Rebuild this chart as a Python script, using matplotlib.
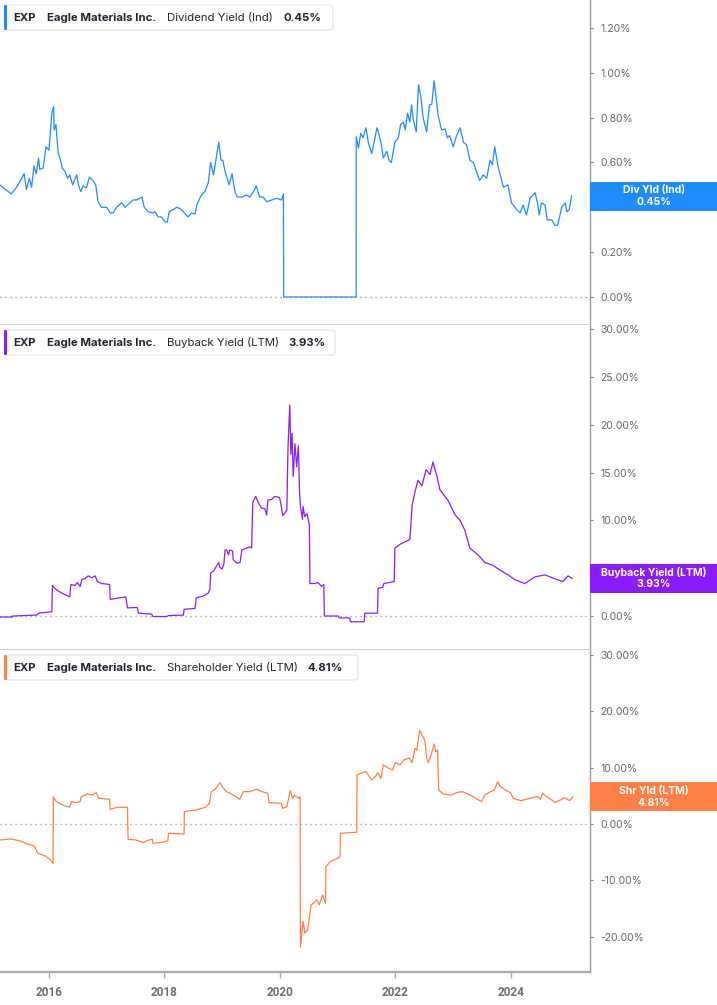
import numpy as np
import matplotlib.pyplot as plt
from matplotlib.patches import Rectangle, FancyBboxPatch

plt.rcParams['font.family'] = ['Inter', 'DejaVu Sans']

# (decimal year, yield %)
div_pts = [
    (2015.15, 0.50), (2015.21, 0.487), (2015.35, 0.46), (2015.44, 0.49), (2015.53, 0.53),
    (2015.57, 0.55), (2015.61, 0.48), (2015.66, 0.53), (2015.70, 0.49), (2015.74, 0.585),
    (2015.78, 0.55), (2015.82, 0.62), (2015.84, 0.57), (2015.90, 0.575), (2015.95, 0.67),
    (2016.00, 0.655), (2016.05, 0.82), (2016.08, 0.85), (2016.09, 0.745), (2016.12, 0.77),
    (2016.16, 0.64), (2016.19, 0.62), (2016.23, 0.575), (2016.28, 0.56), (2016.32, 0.53),
    (2016.36, 0.545), (2016.41, 0.50), (2016.48, 0.545), (2016.51, 0.50), (2016.55, 0.47),
    (2016.59, 0.495), (2016.65, 0.487), (2016.70, 0.535), (2016.76, 0.52), (2016.81, 0.50),
    (2016.85, 0.425), (2016.91, 0.40), (2017.00, 0.40), (2017.06, 0.375), (2017.11, 0.375),
    (2017.17, 0.40), (2017.26, 0.42), (2017.32, 0.40), (2017.40, 0.42), (2017.46, 0.433),
    (2017.52, 0.433), (2017.61, 0.446), (2017.65, 0.40), (2017.72, 0.38), (2017.80, 0.375),
    (2017.84, 0.38), (2017.89, 0.357), (2017.95, 0.357), (2018.01, 0.335), (2018.05, 0.335),
    (2018.08, 0.38), (2018.15, 0.39), (2018.21, 0.40), (2018.27, 0.395), (2018.33, 0.38),
    (2018.41, 0.357), (2018.47, 0.375), (2018.53, 0.37), (2018.56, 0.41), (2018.64, 0.455),
    (2018.70, 0.47), (2018.76, 0.51), (2018.80, 0.60), (2018.85, 0.545), (2018.90, 0.625),
    (2018.94, 0.69), (2018.98, 0.61), (2019.01, 0.61), (2019.05, 0.56), (2019.12, 0.50),
    (2019.17, 0.55), (2019.22, 0.47), (2019.26, 0.446), (2019.34, 0.446), (2019.42, 0.455),
    (2019.48, 0.446), (2019.54, 0.47), (2019.59, 0.495), (2019.65, 0.446), (2019.71, 0.446),
    (2019.77, 0.425), (2019.86, 0.433), (2019.94, 0.44), (2020.03, 0.433), (2020.06, 0.46),
    (2020.065, 0.0), (2021.32, 0.0), (2021.322, 0.715), (2021.36, 0.665), (2021.40, 0.73),
    (2021.44, 0.71), (2021.49, 0.755), (2021.53, 0.69), (2021.59, 0.64), (2021.63, 0.69),
    (2021.68, 0.755), (2021.70, 0.74), (2021.75, 0.69), (2021.79, 0.62), (2021.85, 0.65),
    (2021.89, 0.61), (2021.93, 0.60), (2021.99, 0.69), (2022.05, 0.71), (2022.09, 0.77),
    (2022.14, 0.78), (2022.17, 0.745), (2022.21, 0.82), (2022.25, 0.78), (2022.28, 0.857),
    (2022.31, 0.79), (2022.36, 0.737), (2022.40, 0.946), (2022.44, 0.893), (2022.48, 0.80),
    (2022.54, 0.737), (2022.59, 0.857), (2022.63, 0.86), (2022.67, 0.964), (2022.70, 0.90),
    (2022.74, 0.81), (2022.80, 0.745), (2022.86, 0.75), (2022.90, 0.71), (2022.94, 0.72),
    (2023.00, 0.67), (2023.06, 0.72), (2023.12, 0.755), (2023.18, 0.69), (2023.23, 0.68),
    (2023.29, 0.61), (2023.35, 0.60), (2023.41, 0.555), (2023.46, 0.52), (2023.52, 0.545),
    (2023.58, 0.53), (2023.64, 0.61), (2023.68, 0.59), (2023.72, 0.67), (2023.78, 0.58),
    (2023.87, 0.49), (2023.95, 0.50), (2024.01, 0.42), (2024.10, 0.39), (2024.16, 0.375),
    (2024.21, 0.41), (2024.27, 0.366), (2024.33, 0.44), (2024.42, 0.465), (2024.46, 0.42),
    (2024.49, 0.366), (2024.53, 0.42), (2024.59, 0.41), (2024.63, 0.344), (2024.71, 0.344),
    (2024.76, 0.32), (2024.81, 0.32), (2024.88, 0.40), (2024.94, 0.42), (2024.97, 0.38),
    (2025.01, 0.39), (2025.05, 0.45),
]

buyback_pts = [
    (2015.15, -0.1), (2015.37, -0.1), (2015.372, 0.0), (2015.79, 0.1), (2015.82, 0.3),
    (2016.05, 0.45), (2016.06, 3.2), (2016.10, 2.9), (2016.19, 2.5), (2016.36, 2.0),
    (2016.38, 3.3), (2016.45, 3.2), (2016.49, 3.5), (2016.54, 3.1), (2016.57, 3.85),
    (2016.62, 3.9), (2016.68, 4.2), (2016.74, 4.0), (2016.80, 4.2), (2016.84, 3.6),
    (2016.91, 3.4), (2017.05, 3.3), (2017.06, 1.75), (2017.17, 1.85), (2017.33, 2.0),
    (2017.36, 0.85), (2017.53, 0.9), (2017.55, 0.3), (2017.78, 0.2), (2017.80, -0.05),
    (2018.04, -0.05), (2018.07, 0.05), (2018.33, 0.1), (2018.34, 0.7), (2018.53, 0.8),
    (2018.55, 1.9), (2018.67, 2.1), (2018.76, 2.4), (2018.79, 2.9), (2018.80, 4.5),
    (2018.85, 4.7), (2018.89, 5.1), (2018.94, 5.6), (2018.96, 5.1), (2019.00, 4.9),
    (2019.03, 5.5), (2019.05, 6.9), (2019.08, 6.9), (2019.11, 6.4), (2019.13, 6.9),
    (2019.18, 6.8), (2019.19, 5.9), (2019.26, 5.5), (2019.31, 5.6), (2019.34, 6.9),
    (2019.42, 7.1), (2019.48, 7.25), (2019.51, 7.1), (2019.53, 11.9), (2019.58, 12.5),
    (2019.63, 11.8), (2019.68, 11.3), (2019.74, 11.2), (2019.77, 10.55), (2019.79, 12.1),
    (2019.86, 12.2), (2019.91, 12.5), (2019.99, 12.4), (2020.01, 11.95), (2020.05, 10.5),
    (2020.09, 10.8), (2020.12, 11.1), (2020.13, 14.2), (2020.14, 17.7), (2020.17, 22.05),
    (2020.19, 16.9), (2020.21, 19.1), (2020.23, 14.6), (2020.26, 18.0), (2020.29, 15.6),
    (2020.32, 17.8), (2020.34, 12.8), (2020.36, 11.25), (2020.39, 10.1), (2020.40, 11.45),
    (2020.43, 10.4), (2020.47, 10.7), (2020.51, 9.5), (2020.52, 3.4), (2020.61, 3.4),
    (2020.66, 3.5), (2020.72, 3.1), (2020.76, 3.3), (2020.77, 0.0), (2021.01, 0.0),
    (2021.03, -0.2), (2021.21, -0.2), (2021.22, -0.6), (2021.46, -0.6), (2021.47, 0.3),
    (2021.69, 0.3), (2021.70, 2.9), (2021.78, 3.0), (2021.80, 3.4), (2021.98, 3.6),
    (2021.99, 7.1), (2022.08, 7.5), (2022.25, 8.0), (2022.29, 11.6), (2022.34, 13.0),
    (2022.39, 14.2), (2022.46, 13.6), (2022.53, 15.3), (2022.60, 14.8), (2022.65, 16.1),
    (2022.72, 14.6), (2022.77, 13.2), (2022.91, 12.1), (2023.03, 10.6), (2023.12, 10.0),
    (2023.20, 9.0), (2023.29, 7.1), (2023.43, 6.4), (2023.55, 5.6), (2023.69, 5.3),
    (2023.81, 4.8), (2023.95, 4.3), (2024.07, 3.8), (2024.24, 3.4), (2024.42, 4.1),
    (2024.59, 4.3), (2024.76, 3.9), (2024.90, 3.6), (2024.99, 4.2), (2025.06, 3.93),
]

shareholder_pts = [
    (2015.15, -2.84), (2015.35, -2.66), (2015.54, -3.14), (2015.61, -3.55), (2015.74, -3.85),
    (2015.81, -5.2), (2015.94, -5.7), (2016.03, -6.4), (2016.07, -7.0), (2016.075, 4.73),
    (2016.13, 3.97), (2016.23, 3.37), (2016.36, 2.96), (2016.39, 3.97), (2016.46, 3.79),
    (2016.54, 3.97), (2016.56, 4.85), (2016.67, 5.33), (2016.75, 5.15), (2016.82, 5.56),
    (2016.86, 4.56), (2017.05, 4.38), (2017.06, 2.6), (2017.18, 2.96), (2017.36, 2.96),
    (2017.37, -2.72), (2017.50, -2.84), (2017.64, -3.3), (2017.70, -2.96), (2017.79, -2.72),
    (2017.80, -3.43), (2017.93, -3.3), (2018.06, -3.0), (2018.07, -1.66), (2018.34, -1.78),
    (2018.345, 2.19), (2018.55, 2.49), (2018.71, 2.96), (2018.78, 3.67), (2018.81, 5.74),
    (2018.88, 6.15), (2018.96, 7.34), (2019.01, 6.51), (2019.07, 5.74), (2019.14, 5.44),
    (2019.24, 4.85), (2019.30, 4.38), (2019.37, 5.74), (2019.47, 5.74), (2019.60, 6.15),
    (2019.69, 5.74), (2019.79, 5.44), (2019.81, 3.79), (2020.02, 3.67), (2020.05, 2.78),
    (2020.12, 3.08), (2020.18, 5.92), (2020.22, 4.56), (2020.25, 5.15), (2020.32, 4.56),
    (2020.35, 4.85), (2020.355, -21.9), (2020.38, -19.4), (2020.40, -17.3), (2020.43, -19.4),
    (2020.48, -18.8), (2020.54, -14.4), (2020.64, -13.5), (2020.68, -14.4), (2020.74, -12.6),
    (2020.79, -14.1), (2020.795, -7.6), (2020.87, -6.7), (2021.00, -6.1), (2021.04, -5.8),
    (2021.05, -1.66), (2021.33, -1.48), (2021.335, 8.7), (2021.43, 9.1), (2021.49, 9.3),
    (2021.59, 7.8), (2021.66, 8.5), (2021.69, 9.1), (2021.75, 8.1), (2021.79, 10.5),
    (2021.88, 9.9), (2021.95, 9.6), (2022.00, 10.9), (2022.08, 10.5), (2022.15, 11.4),
    (2022.24, 11.7), (2022.29, 10.9), (2022.34, 13.4), (2022.37, 13.1), (2022.42, 16.6),
    (2022.46, 15.8), (2022.51, 14.9), (2022.54, 11.7), (2022.57, 10.9), (2022.62, 12.3),
    (2022.67, 14.2), (2022.70, 12.8), (2022.73, 13.1), (2022.75, 6.0), (2022.83, 5.33),
    (2022.96, 5.15), (2023.06, 5.56), (2023.16, 5.74), (2023.29, 5.15), (2023.39, 4.56),
    (2023.49, 3.97), (2023.55, 5.15), (2023.65, 5.74), (2023.71, 6.0), (2023.77, 7.5),
    (2023.81, 6.75), (2023.91, 6.0), (2023.99, 5.56), (2024.04, 4.56), (2024.17, 4.14),
    (2024.27, 4.38), (2024.37, 4.68), (2024.47, 4.85), (2024.51, 4.38), (2024.55, 5.44),
    (2024.62, 4.85), (2024.69, 4.38), (2024.77, 3.79), (2024.86, 4.26), (2024.92, 4.68),
    (2025.02, 4.14), (2025.07, 4.81),
]

series_names = ['Dividend Yield (Ind)', 'Buyback Yield (LTM)', 'Shareholder Yield (LTM)']
tag_names = ['Div Yld (Ind)', 'Buyback Yield (LTM)', 'Shr Yld (LTM)']
last_values = [0.45, 3.93, 4.81]
y_ticks = [np.arange(0, 1.21, 0.2), np.arange(0, 31, 5), np.arange(-20, 31, 10)]
x_years = [2016, 2018, 2020, 2022, 2024]

colors = ['#1e8cff', '#8a1cff', '#ff7f45']
ylims = [(-0.125, 1.325), (-3.55, 30.42), (-26.3, 30.9)]
rows = [(0, 325), (325, 650), (650, 972)]   # pixel rows of the panels
box_right = [333, 335, 358]
name_x = [284, 288, 308]

W, H = 717, 1005
fig = plt.figure(figsize=(W / 100, H / 100), dpi=100)
inch = fig.dpi_scale_trans


def at(x, y):
    return x / 100, (H - y) / 100


all_pts = [div_pts, buyback_pts, shareholder_pts]
for i in range(3):
    top, bot = rows[i]
    ax = fig.add_axes([0, 1 - bot / H, 590 / W, (bot - top) / H])
    t, v = np.array(all_pts[i]).T
    ax.axhline(0, color='#8a8a8a', lw=1, ls=(0, (0.8, 2.8)), zorder=1)
    ax.plot(t, v, color=colors[i], lw=0.9, zorder=2)
    ax.set_xlim(2015.152, 2025.37)
    ax.set_ylim(*ylims[i])

    ax.yaxis.tick_right()
    ax.set_yticks(y_ticks[i])
    ax.set_yticklabels([f'{y:.2f}%' for y in y_ticks[i]])
    ax.tick_params(axis='y', length=2.5, width=0.8, color='#777777', pad=5,
                   labelsize=7.5, labelcolor='#666666')
    for s in ['top', 'left']:
        ax.spines[s].set_visible(False)
    ax.spines['right'].set_color('#9a9a9a')
    ax.spines['right'].set_linewidth(1.0)
    if i < 2:
        ax.spines['bottom'].set_color('#c8c8c8')
        ax.spines['bottom'].set_linewidth(1.2)
        ax.set_xticks([])
    else:
        ax.spines['bottom'].set_color('#aaaaaa')
        ax.spines['bottom'].set_linewidth(1.6)
        ax.set_xticks(x_years)
        ax.set_xticklabels([str(y) for y in x_years], fontfamily='Roboto',
                           fontweight='bold')
        ax.tick_params(axis='x', length=4, width=1, color='#aaaaaa', pad=6,
                       labelsize=8.5, labelcolor='#6e6e6e')

    # value tag on the right
    ymin, ymax = ylims[i]
    per_px = (ymax - ymin) / (bot - top)
    yc = top + (ymax - last_values[i]) / per_px
    fig.patches.append(Rectangle(at(590, yc + 14.5), (W - 590) / 100, 0.29,
                                 transform=inch, facecolor=colors[i],
                                 edgecolor='none', zorder=5))
    fig.text(*at(654, yc - 6), tag_names[i], transform=inch, ha='center',
             va='center', color='white', fontsize=7.5, fontweight='bold', zorder=6)
    fig.text(*at(654, yc + 6), f'{last_values[i]:.2f}%', transform=inch,
             ha='center', va='center', color='white', fontsize=7.5,
             fontweight='bold', zorder=6)

    # legend box top-left
    fig.patches.append(FancyBboxPatch(at(5, top + 30), (box_right[i] - 5) / 100, 0.25,
                                      boxstyle='round,pad=0,rounding_size=0.03',
                                      transform=inch, facecolor='white',
                                      edgecolor='#e3e3e3', lw=0.8, zorder=5))
    fig.patches.append(FancyBboxPatch(at(4, top + 30), 0.03, 0.25,
                                      boxstyle='round,pad=0,rounding_size=0.012',
                                      transform=inch, facecolor=colors[i],
                                      edgecolor='none', zorder=6))
    yl = top + 17.5
    fig.text(*at(13, yl), 'EXP', transform=inch, va='center', fontsize=8.2,
             fontweight='bold', color='#23232f', zorder=7)
    fig.text(*at(47, yl), 'Eagle Materials Inc.', transform=inch, va='center',
             fontsize=8.2, fontweight='bold', color='#23232f', zorder=7)
    fig.text(*at(167, yl), series_names[i], transform=inch, va='center',
             fontsize=8.2, color='#23232f', zorder=7)
    fig.text(*at(name_x[i], yl), f'{last_values[i]:.2f}%', transform=inch,
             va='center', fontsize=8.2, fontweight='bold', color='#23232f', zorder=7)

fig.savefig('out.png', dpi=100)
